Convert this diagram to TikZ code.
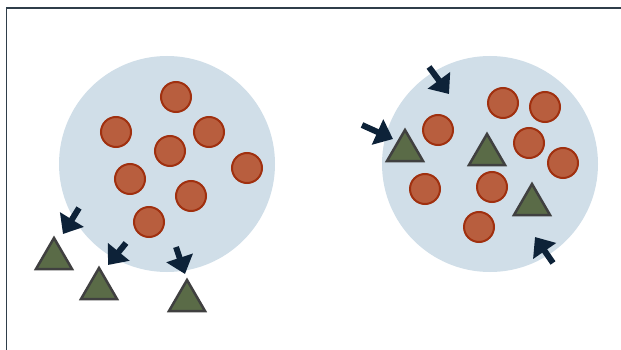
\documentclass[tikz,border=0pt]{standalone}
\usetikzlibrary{arrows.meta}
\definecolor{bigc}{HTML}{D0DEE8}
\definecolor{dotf}{HTML}{B85E3E}
\definecolor{dotd}{HTML}{A0300F}
\definecolor{trif}{HTML}{5A6B47}
\definecolor{trid}{HTML}{404040}
\definecolor{arr}{HTML}{0D2238}
\definecolor{frm}{HTML}{2F3E4A}
\tikzset{
  big/.style={fill=bigc, draw=none},
  dot/.style={circle, fill=dotf, draw=dotd, line width=2pt, minimum size=30pt, inner sep=0pt},
  tri/.style={fill=trif, draw=trid, line width=2.5pt, line join=miter},
  arw/.style={draw=arr, line width=6pt, -{Triangle[length=17pt,width=27pt]}},
}
\begin{document}
\begin{tikzpicture}[x=1pt,y=-1pt]
\useasboundingbox (0,0) rectangle (621,350);
\draw[frm, line width=1.5pt] (6.5,350) -- (6.5,8) -- (621,8);
% big circles
\fill[big] (167,164) circle (108);
\fill[big] (490,164) circle (108);
% left dots
\foreach \n/\x/\y in {a/176/97, b/116/132, c/209/132, d/170/151, e/247/168, f/130/179, g/191/196, h/149/222}
  \node[dot] (L\n) at (\x,\y) {};
% right dots
\foreach \n/\x/\y in {a/503/103, b/545/107, c/438/130, d/529/143, e/563/163, f/425/189, g/492/187, h/479/227}
  \node[dot] (R\n) at (\x,\y) {};
% triangles
\newcommand{\mytri}[2]{\draw[tri] (#1,#2) -- ++(18,31) -- ++(-36,0) -- cycle;}
\mytri{54}{238}
\mytri{99}{268}
\mytri{187}{280}
\mytri{405}{130}
\mytri{487}{134}
\mytri{532}{184}
% arrows
\coordinate (a1s) at (79,208); \coordinate (a1e) at (63,234);
\coordinate (a2s) at (126,243); \coordinate (a2e) at (108,265);
\coordinate (a3s) at (176,247); \coordinate (a3e) at (185,274);
\coordinate (a4s) at (429,67); \coordinate (a4e) at (449,94);
\coordinate (a5s) at (362,125); \coordinate (a5e) at (393,139);
\coordinate (a6s) at (553,263); \coordinate (a6e) at (535,237);
\foreach \i in {1,...,6} \draw[arw] (a\i s) -- (a\i e);
\end{tikzpicture}
\end{document}
